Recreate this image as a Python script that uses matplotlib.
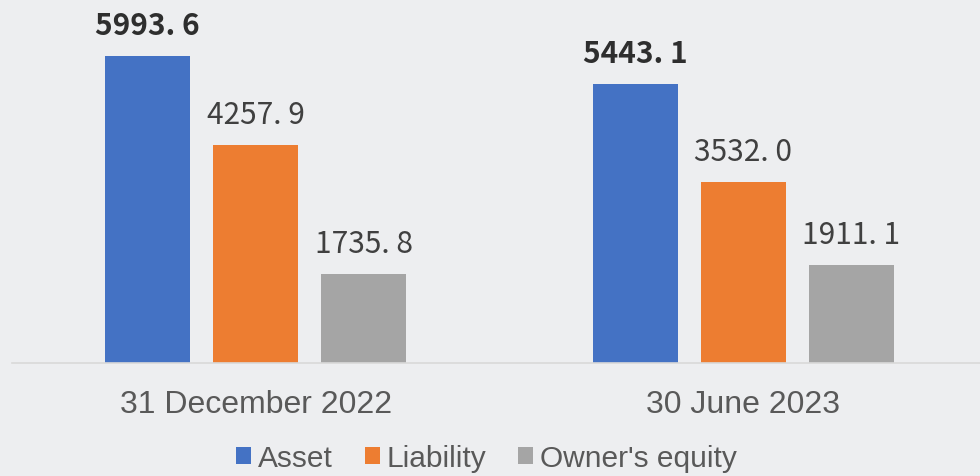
import numpy as np
import matplotlib
matplotlib.use("Agg")
import matplotlib.pyplot as plt
from matplotlib.patches import Patch

categories = ["31 December 2022", "30 June 2023"]
series_names = ["Asset", "Liability", "Owner's equity"]
asset = [5993.6, 5443.1]
liability = [4257.9, 3532.0]
equity = [1735.8, 1911.1]

colors = ["#4472C4", "#ED7D31", "#A5A5A5"]
bg = "#EDEEF0"

fig = plt.figure(figsize=(9.8, 4.77), dpi=100)
fig.patch.set_facecolor(bg)

# plot area runs a little past the right edge, like the original
ax = fig.add_axes([12 / 980, 1 - 364 / 477, 975 / 980, 358.5 / 477])
ax.set_facecolor("none")

x = np.arange(len(categories))
step = 0.2215
width = 0.174

for i, (vals, color) in enumerate(zip([asset, liability, equity], colors)):
    xs = x + (i - 1) * step
    ax.bar(xs, vals, width=width, color=color, zorder=2)
    for xv, v in zip(xs, vals):
        ax.annotate(
            f"{v:.1f}".replace(".", ". "),
            (xv, v),
            xytext=(0, 15.8),
            textcoords="offset points",
            ha="center",
            va="baseline",
            fontsize=21.5,
            family=["Noto Sans CJK SC", "DejaVu Sans"],
            fontweight="bold" if i == 0 else "normal",
            color="#2E2E2E" if i == 0 else "#404040",
        )

ax.set_xlim(-0.5, 1.5)
ax.set_ylim(0, 7000)
ax.set_xticks(x)
ax.set_xticklabels(categories, fontsize=23, family="Liberation Sans", color="#595959")
ax.tick_params(axis="x", length=0, pad=19)
ax.set_yticks([])
for side in ["top", "left", "right"]:
    ax.spines[side].set_visible(False)
ax.spines["bottom"].set_color("#D9D9D9")
ax.spines["bottom"].set_linewidth(1.2)
ax.spines["bottom"].set_zorder(3)

# legend hugs the bottom edge (the original cuts it off slightly)
handles = [Patch(facecolor=c, edgecolor="none") for c in colors]
fig.legend(
    handles,
    series_names,
    loc="lower center",
    bbox_to_anchor=(0.4964, -11 / 477),
    ncol=3,
    frameon=False,
    borderpad=0,
    handlelength=0.5,
    handleheight=0.5,
    handletextpad=0.23,
    columnspacing=1.07,
    prop={"family": "Liberation Sans", "size": 21.5},
    labelcolor="#595959",
)

fig.savefig("out.png", dpi=100, facecolor=bg)
